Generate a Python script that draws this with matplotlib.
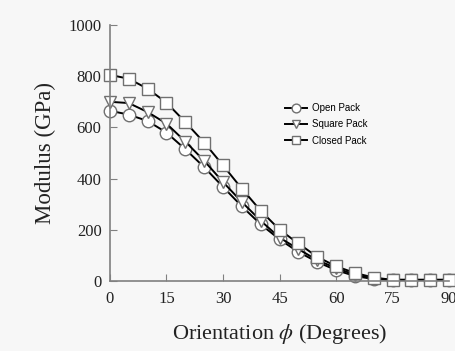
import numpy as np
import matplotlib
matplotlib.use("Agg")
import matplotlib.pyplot as plt

plt.rcParams['font.family'] = 'Liberation Serif'
plt.rcParams['mathtext.fontset'] = 'stix'

angle = [0, 5, 10, 15, 20, 25, 30, 35, 40, 45, 50, 55, 60, 65, 70, 75, 80, 85, 90]
open_pack = [665, 650, 625, 580, 515, 445, 368, 292, 222, 163, 114, 75, 43, 20, 8, 5, 5, 5, 5]
square_pack = [700, 695, 660, 615, 545, 470, 387, 309, 236, 170, 125, 82, 51, 25, 10, 5, 5, 5, 5]
closed_pack = [805, 790, 751, 697, 621, 541, 452, 361, 275, 201, 147, 95, 58, 32, 14, 5, 5, 5, 5]

bg = '#f7f7f7'
fig = plt.figure(figsize=(4.56, 3.51), dpi=100, facecolor=bg)
ax = fig.add_axes([0.241, 0.199, 0.744, 0.730], facecolor=bg)

series = [(open_pack, 'o', 'Open Pack'),
          (square_pack, 'v', 'Square Pack'),
          (closed_pack, 's', 'Closed Pack')]
for vals, m, lab in series:
    ax.plot(angle, vals, color='black', lw=1.4, marker=m, ms=9,
            mfc='white', mec='#707070', mew=1.0, label=lab, clip_on=False)

ax.set_xlim(0, 90)
ax.set_ylim(0, 1000)
ax.set_xticks(np.arange(0, 91, 15))
ax.set_yticks(np.arange(0, 1001, 200))
for s in ['top', 'right']:
    ax.spines[s].set_visible(False)
for s in ['left', 'bottom']:
    ax.spines[s].set_color('#808080')
    ax.spines[s].set_linewidth(1.2)
ax.tick_params(direction='in', length=5, color='#808080', labelsize=12,
               labelcolor='#222222')
ax.tick_params(axis='y', pad=6)
ax.tick_params(axis='x', pad=7)

ax.set_xlabel(r'Orientation $\phi$ (Degrees)', fontsize=16, color='#222222', labelpad=11)
ax.set_ylabel('Modulus (GPa)', fontsize=16.5, color='#222222', labelpad=9)

leg = ax.legend(loc='upper left', bbox_to_anchor=(0.516, 0.695), frameon=False,
                prop={'family': 'Liberation Sans', 'size': 7},
                handlelength=2.3, labelspacing=0.65, borderpad=0,
                borderaxespad=0, handletextpad=0.5, markerscale=0.7)

fig.savefig('out.png', dpi=100, facecolor=bg)
